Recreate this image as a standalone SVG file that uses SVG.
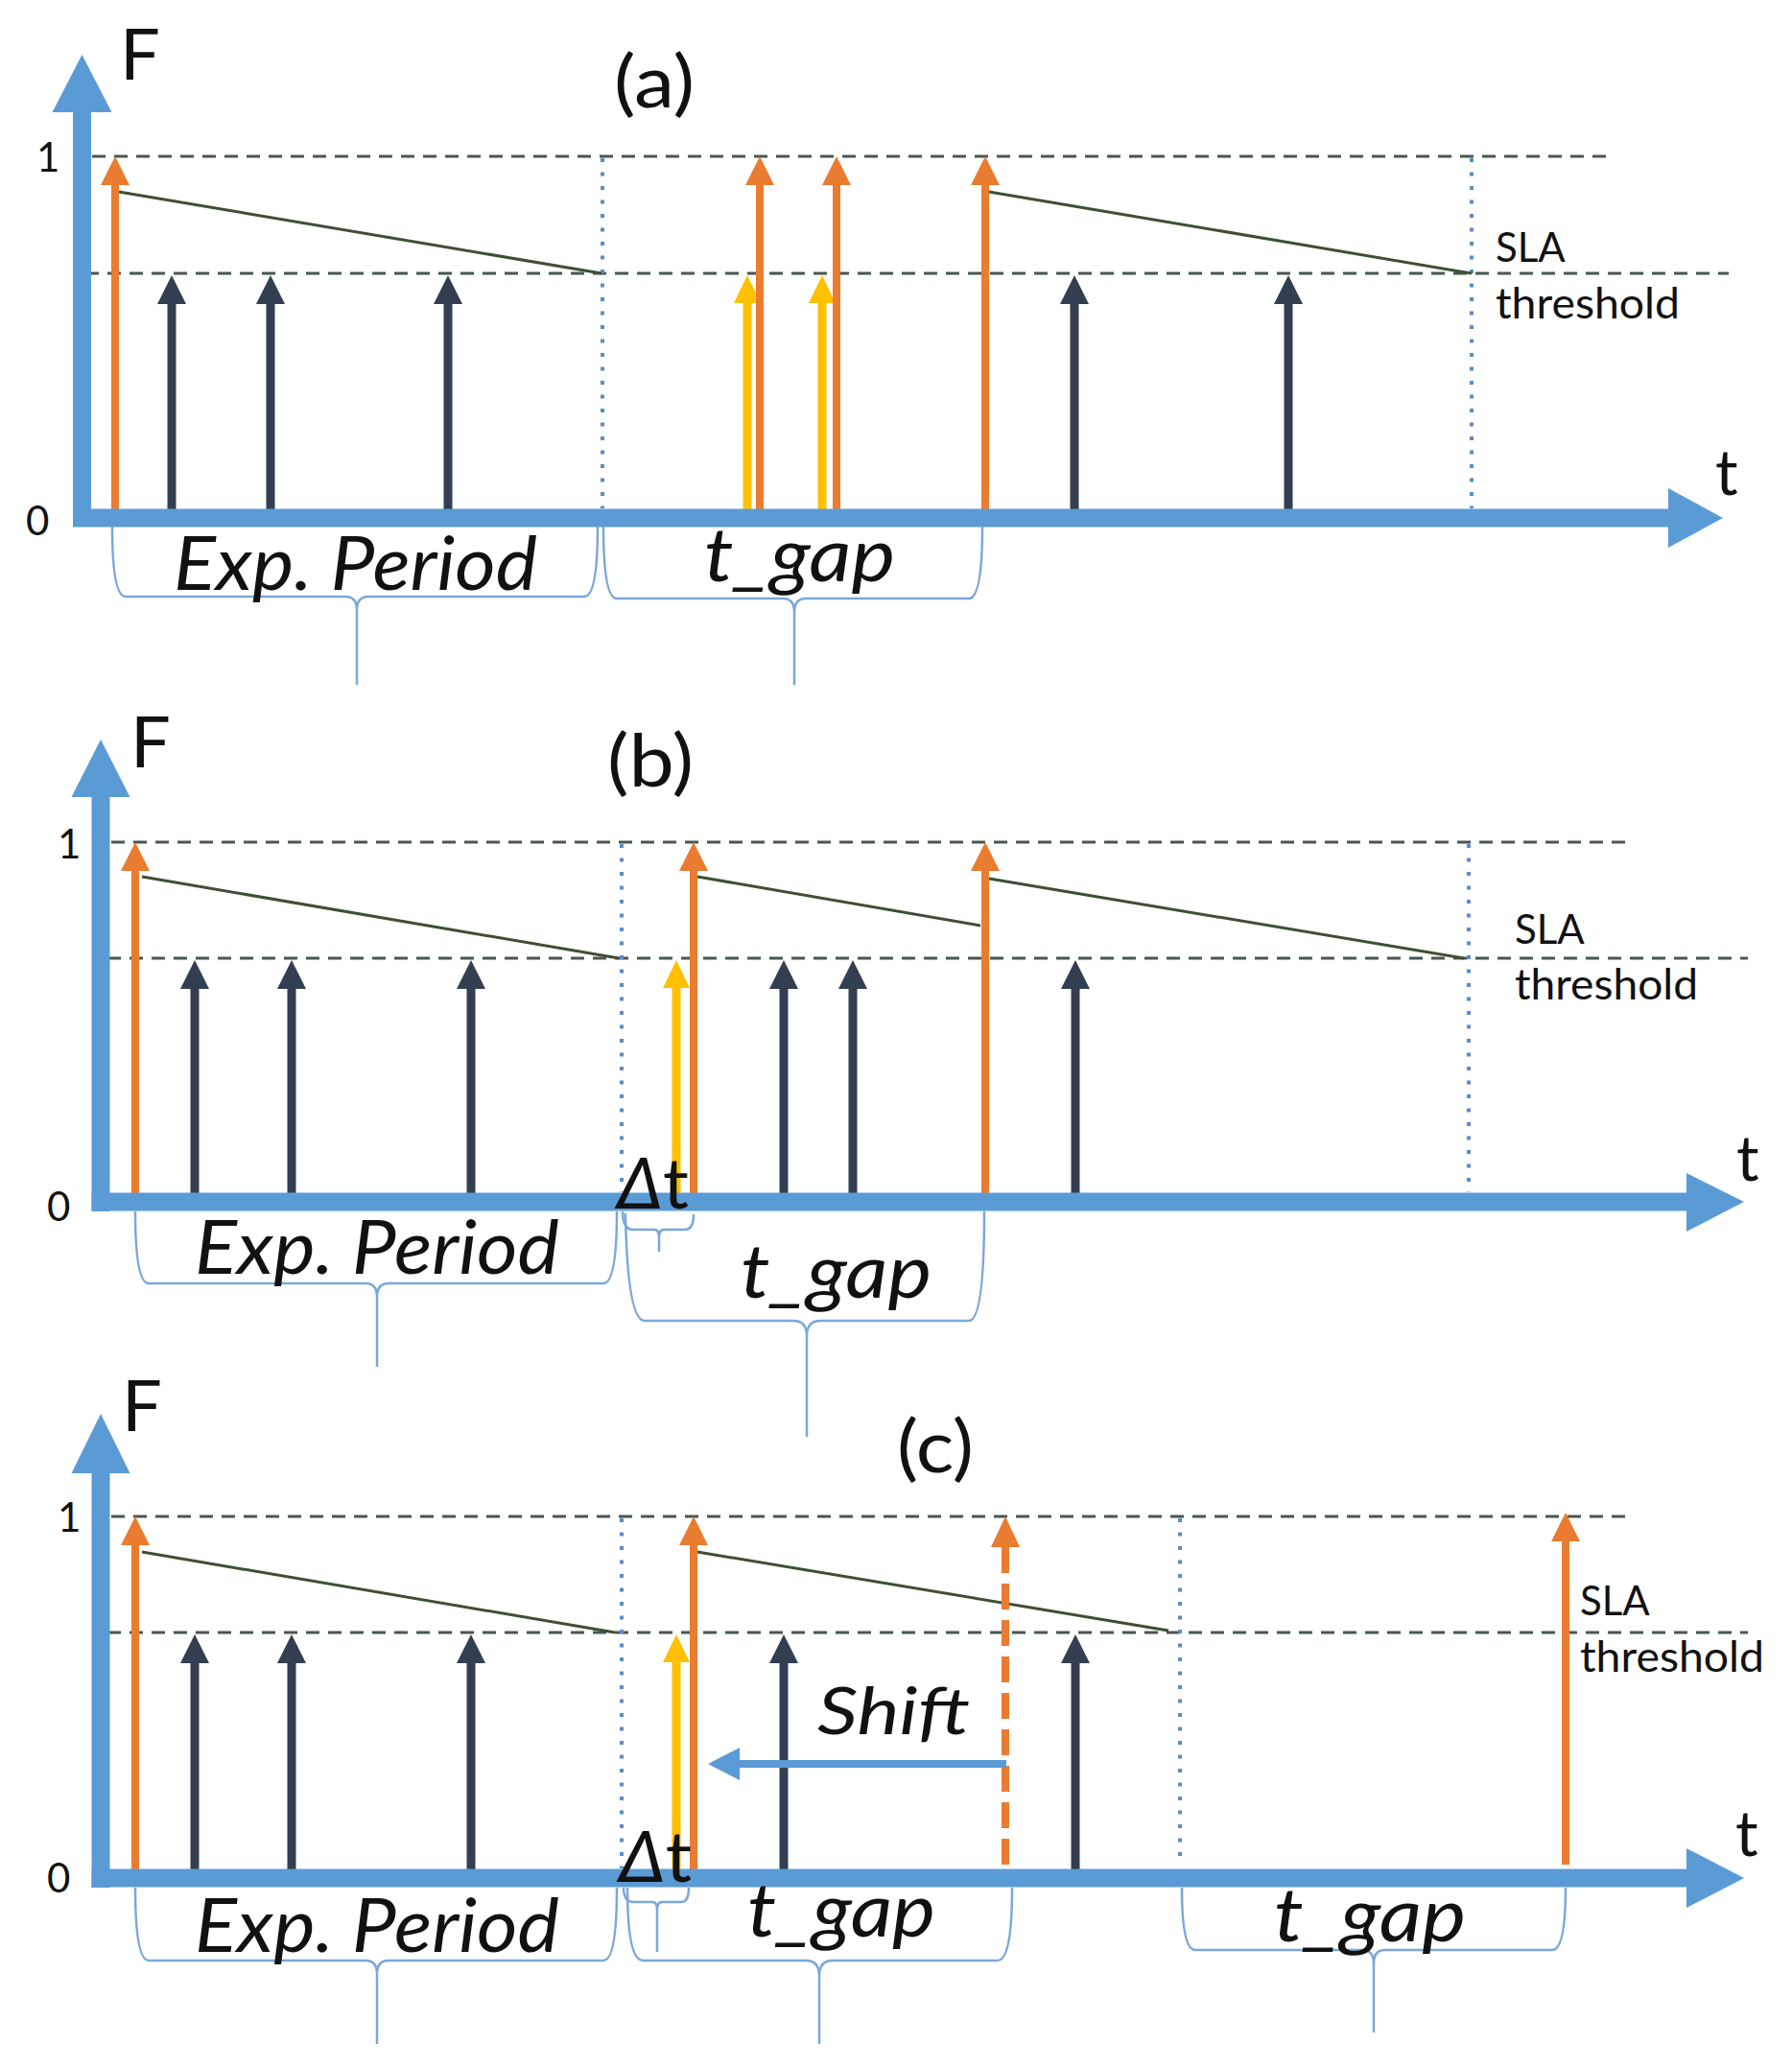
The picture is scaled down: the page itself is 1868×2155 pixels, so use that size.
<svg xmlns="http://www.w3.org/2000/svg" width="1868" height="2155" viewBox="0 0 1868 2155">
<style>
text{font-family:Lato,"Noto Sans","Liberation Sans",sans-serif;fill:#111}
.it{font-style:italic}
.axis{stroke:#5B9BD5;stroke-width:19;fill:none}
.axh{fill:#5B9BD5}
.dash{stroke:#4A5650;stroke-width:3;stroke-dasharray:14 9;fill:none}
.dot{stroke:#5B8CC8;stroke-width:4;stroke-dasharray:4 10.5;fill:none}
.decay{stroke:#3F4F33;stroke-width:3;fill:none}
.brace{stroke:#7BA7DA;stroke-width:2.5;fill:none}
.or line,.or path{stroke:#E97C30;stroke-width:8;fill:none}
.or polygon{fill:#E97C30}
.ye line{stroke:#FFC000;stroke-width:9}
.ye polygon{fill:#FFC000}
.dk line{stroke:#333F50;stroke-width:9}
.dk polygon{fill:#333F50}
.big{font-size:78px}
.lab{font-size:42px}
.ttl{font-size:76px}
</style>

<!-- ================= PANEL A ================= -->
<g id="panel-a">
  <g id="a-grid">
    <line class="dash" x1="96" y1="163" x2="1680" y2="163"/>
    <line class="dash" x1="89" y1="285" x2="1802" y2="285"/>
    <line class="dot" x1="628" y1="165" x2="628" y2="530"/>
    <line class="dot" x1="1534" y1="165" x2="1534" y2="530"/>
    <line class="decay" x1="124" y1="200" x2="627" y2="285"/>
    <line class="decay" x1="1031" y1="200" x2="1534" y2="285"/>
  </g>
  <g id="a-arrows">
    <g class="ye"><line x1="779" y1="540" x2="779" y2="310"/><polygon points="779,287 765,316 793,316"/></g>
    <g class="ye"><line x1="857" y1="540" x2="857" y2="310"/><polygon points="857,287 843,316 871,316"/></g>
    <g class="or"><line x1="120" y1="540" x2="120" y2="186"/><polygon points="120,163 105,193 135,193"/></g>
    <g class="or"><line x1="792" y1="540" x2="792" y2="186"/><polygon points="792,163 777,193 807,193"/></g>
    <g class="or"><line x1="872" y1="540" x2="872" y2="186"/><polygon points="872,163 857,193 887,193"/></g>
    <g class="or"><line x1="1027" y1="540" x2="1027" y2="186"/><polygon points="1027,163 1012,193 1042,193"/></g>
    <g class="dk"><line x1="179" y1="540" x2="179" y2="310"/><polygon points="179,287 164,317 194,317"/></g>
    <g class="dk"><line x1="282" y1="540" x2="282" y2="310"/><polygon points="282,287 267,317 297,317"/></g>
    <g class="dk"><line x1="467" y1="540" x2="467" y2="310"/><polygon points="467,287 452,317 482,317"/></g>
    <g class="dk"><line x1="1120" y1="540" x2="1120" y2="310"/><polygon points="1120,287 1105,317 1135,317"/></g>
    <g class="dk"><line x1="1343" y1="540" x2="1343" y2="310"/><polygon points="1343,287 1328,317 1358,317"/></g>
  </g>
  <g id="a-axes">
    <line class="axis" x1="85.5" y1="549" x2="85.5" y2="112"/>
    <polygon class="axh" points="54.5,117 85.5,57 116.5,117"/>
    <line class="axis" x1="76" y1="540" x2="1744" y2="540"/>
    <polygon class="axh" points="1739,509 1796,540 1739,571"/>
  </g>
  <g id="a-braces">
    <path class="brace" d="M117 549 Q117 622 131 622 L360 622 Q372 622 372 636 L372 714 M372 636 Q372 622 384 622 L609 622 Q623 622 623 549"/>
    <path class="brace" d="M629 549 Q629 624 643 624 L816 624 Q828 624 828 638 L828 714 M828 638 Q828 624 840 624 L1010 624 Q1024 624 1024 549"/>
  </g>
  <g id="a-labels">
    <text x="125" y="83" style="font-size:74px">F</text>
    <text x="682" y="112" text-anchor="middle" class="ttl" textLength="84" lengthAdjust="spacingAndGlyphs">(a)</text>
    <text x="38" y="179" class="lab">1</text>
    <text x="27" y="558" class="lab">0</text>
    <text x="1788" y="516" style="font-size:66px">t</text>
    <text x="1559" y="273" class="lab">SLA</text>
    <text x="1559" y="332" style="font-size:44px" textLength="192" lengthAdjust="spacingAndGlyphs">threshold</text>
    <text x="181" y="615" class="big it" textLength="379" lengthAdjust="spacingAndGlyphs">Exp. Period</text>
    <text x="734" y="606" class="big it" textLength="199" lengthAdjust="spacingAndGlyphs">t_gap</text>
  </g>
</g>

<!-- ================= PANEL B ================= -->
<g id="panel-b">
  <g id="b-grid">
    <line class="dash" x1="116" y1="878" x2="1700" y2="878"/>
    <line class="dash" x1="112" y1="999" x2="1822" y2="999"/>
    <line class="dot" x1="648" y1="880" x2="648" y2="1243"/>
    <line class="dot" x1="1531" y1="880" x2="1531" y2="1243"/>
    <line class="decay" x1="148" y1="914" x2="645" y2="999"/>
    <line class="decay" x1="727" y1="914" x2="1022" y2="965"/>
    <line class="decay" x1="1031" y1="916" x2="1526" y2="999"/>
  </g>
  <g id="b-arrows">
    <g class="ye"><line x1="705" y1="1253" x2="705" y2="1024"/><polygon points="705,1001 691,1030 719,1030"/></g>
    <g class="or"><line x1="141" y1="1253" x2="141" y2="901"/><polygon points="141,878 126,908 156,908"/></g>
    <g class="or"><line x1="723" y1="1253" x2="723" y2="901"/><polygon points="723,878 708,908 738,908"/></g>
    <g class="or"><line x1="1027" y1="1253" x2="1027" y2="901"/><polygon points="1027,878 1012,908 1042,908"/></g>
    <g class="dk"><line x1="203" y1="1253" x2="203" y2="1024"/><polygon points="203,1001 188,1031 218,1031"/></g>
    <g class="dk"><line x1="304" y1="1253" x2="304" y2="1024"/><polygon points="304,1001 289,1031 319,1031"/></g>
    <g class="dk"><line x1="491" y1="1253" x2="491" y2="1024"/><polygon points="491,1001 476,1031 506,1031"/></g>
    <g class="dk"><line x1="817" y1="1253" x2="817" y2="1024"/><polygon points="817,1001 802,1031 832,1031"/></g>
    <g class="dk"><line x1="889" y1="1253" x2="889" y2="1024"/><polygon points="889,1001 874,1031 904,1031"/></g>
    <g class="dk"><line x1="1121" y1="1253" x2="1121" y2="1024"/><polygon points="1121,1001 1106,1031 1136,1031"/></g>
  </g>
  <g id="b-axes">
    <line class="axis" x1="105" y1="1263" x2="105" y2="826"/>
    <polygon class="axh" points="74.5,831 105,771 135.5,831"/>
    <line class="axis" x1="95.5" y1="1253" x2="1763" y2="1253"/>
    <polygon class="axh" points="1758,1223 1818,1253 1758,1284"/>
  </g>
  <g id="b-braces">
    <path class="brace" d="M141 1263 Q141 1338 155 1338 L381 1338 Q393 1338 393 1352 L393 1425 M393 1352 Q393 1338 405 1338 L629 1338 Q643 1338 643 1263"/>
    <path class="brace" d="M649 1263 Q649 1282 660 1282 L682 1282 Q687 1282 687 1290 L687 1305 M687 1290 Q687 1282 692 1282 L714 1282 Q723 1282 723 1266"/>
    <path class="brace" d="M652 1265 Q654 1377 672 1377 L827 1377 Q841 1377 841 1393 L841 1498 M841 1393 Q841 1377 855 1377 L1010 1377 Q1026 1377 1026 1263"/>
  </g>
  <g id="b-labels">
    <text x="136" y="800" style="font-size:74px">F</text>
    <text x="678" y="820" text-anchor="middle" class="ttl" textLength="90" lengthAdjust="spacingAndGlyphs">(b)</text>
    <text x="60" y="895" class="lab">1</text>
    <text x="49" y="1273" class="lab">0</text>
    <text x="1810" y="1231" style="font-size:66px">t</text>
    <text x="1579" y="984" class="lab">SLA</text>
    <text x="1579" y="1042" style="font-size:44px" textLength="191" lengthAdjust="spacingAndGlyphs">threshold</text>
    <text x="203" y="1328" class="big it" textLength="380" lengthAdjust="spacingAndGlyphs">Exp. Period</text>
    <text x="772" y="1353" class="big it" textLength="199" lengthAdjust="spacingAndGlyphs">t_gap</text>
    <text x="643" y="1260" style="font-size:74px" textLength="75" lengthAdjust="spacingAndGlyphs"><tspan class="it">Δ</tspan>t</text>
  </g>
</g>

<!-- ================= PANEL C ================= -->
<g id="panel-c">
  <g id="c-grid">
    <line class="dash" x1="116" y1="1581" x2="1701" y2="1581"/>
    <line class="dash" x1="112" y1="1702" x2="1822" y2="1702"/>
    <line class="dot" x1="648" y1="1583" x2="648" y2="1948"/>
    <line class="dot" x1="1230" y1="1583" x2="1230" y2="1942"/>
    <line class="decay" x1="148" y1="1618" x2="641" y2="1702"/>
    <line class="decay" x1="727" y1="1618" x2="1218" y2="1700"/>
  </g>
  <g id="c-arrows">
    <g class="ye"><line x1="705" y1="1958" x2="705" y2="1727"/><polygon points="705,1704 691,1733 719,1733"/></g>
    <g class="or"><line x1="141" y1="1958" x2="141" y2="1604"/><polygon points="141,1581 126,1611 156,1611"/></g>
    <g class="or"><line x1="723" y1="1958" x2="723" y2="1604"/><polygon points="723,1581 708,1611 738,1611"/></g>
    <g class="or"><line x1="1632" y1="1944" x2="1632" y2="1600"/><polygon points="1632,1577 1617,1607 1647,1607"/></g>
    <g class="or" id="c-shifted"><path d="M1048 1613 V1948" style="stroke-dasharray:27 11"/><polygon points="1048,1581 1033,1613 1063,1613"/></g>
    <g class="dk"><line x1="203" y1="1958" x2="203" y2="1727"/><polygon points="203,1704 188,1734 218,1734"/></g>
    <g class="dk"><line x1="304" y1="1958" x2="304" y2="1727"/><polygon points="304,1704 289,1734 319,1734"/></g>
    <g class="dk"><line x1="491" y1="1958" x2="491" y2="1727"/><polygon points="491,1704 476,1734 506,1734"/></g>
    <g class="dk"><line x1="817" y1="1958" x2="817" y2="1727"/><polygon points="817,1704 802,1734 832,1734"/></g>
    <g class="dk"><line x1="1121" y1="1958" x2="1121" y2="1727"/><polygon points="1121,1704 1106,1734 1136,1734"/></g>
  </g>
  <g id="c-shift">
    <line x1="1049" y1="1839" x2="766" y2="1839" style="stroke:#5B9BD5;stroke-width:8"/>
    <polygon points="738,1839 771,1822 771,1856" style="fill:#5B9BD5"/>
  </g>
  <g id="c-axes">
    <line class="axis" x1="105" y1="1968" x2="105" y2="1531"/>
    <polygon class="axh" points="74.5,1536 105,1474 135.5,1536"/>
    <line class="axis" x1="95.5" y1="1958" x2="1763" y2="1958"/>
    <polygon class="axh" points="1758,1927 1818,1958 1758,1989"/>
  </g>
  <g id="c-braces">
    <path class="brace" d="M141 1968 Q141 2044 155 2044 L381 2044 Q393 2044 393 2058 L393 2131 M393 2058 Q393 2044 405 2044 L629 2044 Q643 2044 643 1968"/>
    <path class="brace" d="M650 1968 Q650 1983 661 1983 L680 1983 Q685 1983 685 1991 L685 2035 M685 1991 Q685 1983 690 1983 L710 1983 Q718 1983 718 1968"/>
    <path class="brace" d="M654 1968 Q654 2044 670 2044 L840 2044 Q854 2044 854 2060 L854 2131 M854 2060 Q854 2044 868 2044 L1040 2044 Q1055 2044 1055 1968"/>
    <path class="brace" d="M1232 1968 Q1232 2033 1246 2033 L1420 2033 Q1432 2033 1432 2047 L1432 2119 M1432 2047 Q1432 2033 1444 2033 L1618 2033 Q1632 2033 1632 1968"/>
  </g>
  <g id="c-labels">
    <text x="127" y="1492" style="font-size:74px">F</text>
    <text x="975" y="1535" text-anchor="middle" class="ttl" textLength="80" lengthAdjust="spacingAndGlyphs">(c)</text>
    <text x="60" y="1597" class="lab">1</text>
    <text x="49" y="1973" class="lab">0</text>
    <text x="1809" y="1935" style="font-size:66px">t</text>
    <text x="1647" y="1684" class="lab">SLA</text>
    <text x="1647" y="1743" style="font-size:44px" textLength="192" lengthAdjust="spacingAndGlyphs">threshold</text>
    <text x="852" y="1808" class="it" style="font-size:68px" textLength="159" lengthAdjust="spacingAndGlyphs">Shift</text>
    <text x="203" y="2035" class="big it" textLength="380" lengthAdjust="spacingAndGlyphs">Exp. Period</text>
    <text x="779" y="2019" class="big it" textLength="196" lengthAdjust="spacingAndGlyphs">t_gap</text>
    <text x="1328" y="2024" class="big it" textLength="200" lengthAdjust="spacingAndGlyphs">t_gap</text>
    <text x="645" y="1962" style="font-size:74px" textLength="76" lengthAdjust="spacingAndGlyphs"><tspan class="it">Δ</tspan>t</text>
  </g>
</g>
</svg>
